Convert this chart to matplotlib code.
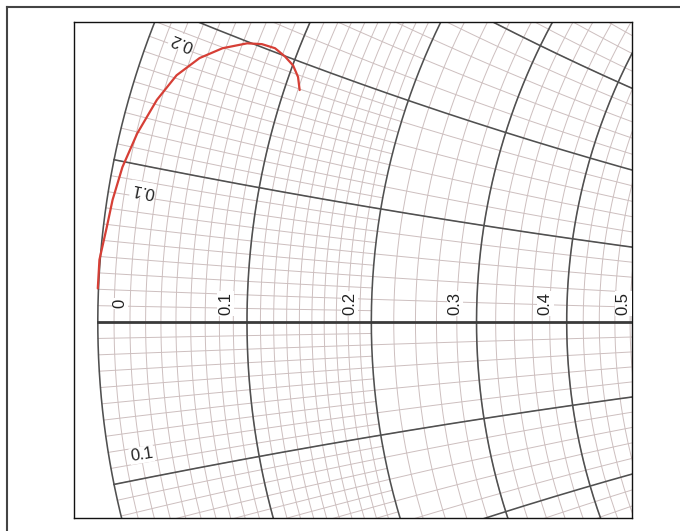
import matplotlib
matplotlib.use('Agg')
import matplotlib.pyplot as plt
import numpy as np
from matplotlib.lines import Line2D

# trace, as reflection coefficient (re, im)
trace_re = [-1.000, -0.998, -0.989, -0.982, -0.970, -0.952, -0.928, -0.904,
            -0.876, -0.848, -0.818, -0.800, -0.784, -0.772, -0.762, -0.756, -0.754]
trace_im = [0.041, 0.076, 0.116, 0.149, 0.189, 0.230, 0.271, 0.301,
            0.322, 0.334, 0.340, 0.339, 0.334, 0.324, 0.313, 0.299, 0.283]

# grid values (normalised resistance / reactance)
r_major = [0.0, 0.1, 0.2, 0.3, 0.4, 0.5]
x_major = [0.1, 0.2, 0.3, 0.4, 0.5]
r_minor_fine = [round(0.01 * i, 2) for i in range(1, 20)]
r_minor_coarse = [round(0.2 + 0.02 * i, 2) for i in range(1, 15)]
x_minor_fine = [round(0.01 * i, 2) for i in range(1, 20)]
x_minor_coarse = [round(0.2 + 0.02 * i, 2) for i in range(1, 15)]
axis_labels = ['0', '0.1', '0.2', '0.3', '0.4', '0.5']


def gamma(z):
    return (z - 1) / (z + 1)


def r_circle(ax, r, **kw):
    xs = np.linspace(-3, 3, 1500)
    g = gamma(r + 1j * xs)
    ax.plot(g.real, g.imag, **kw)


def x_arc(ax, x, rmax, **kw):
    rs = np.linspace(0, rmax, 600)
    for s in (1, -1):
        g = gamma(rs + 1j * s * x)
        ax.plot(g.real, g.imag, **kw)


fig = plt.figure(figsize=(6.8, 5.31), dpi=100)
ax = fig.add_axes([74 / 680, 13 / 531, 558 / 680, 496 / 531])
ax.set_xlim(-1.029, -0.349)
ax.set_ylim(-0.239, 0.366)
ax.set_xticks([])
ax.set_yticks([])
for sp in ax.spines.values():
    sp.set_color('#111111')
    sp.set_linewidth(1.0)

minor = dict(color='#cdbfbf', lw=0.7, zorder=1)
major = dict(color='#505050', lw=1.15, zorder=2)

# fine grid
for r in r_minor_fine + r_minor_coarse:
    r_circle(ax, r, **minor)
for x in x_minor_fine:
    rmax = 0.2 if round(x * 100) % 2 else 3.0
    x_arc(ax, x, rmax, **minor)
for x in x_minor_coarse:
    x_arc(ax, x, 3.0, **minor)

# heavy lines
for r in r_major:
    r_circle(ax, r, **major)
for x in x_major:
    x_arc(ax, x, 3.0, **major)
ax.plot([-1, 1], [0, 0], color='#3a3a3a', lw=2.0, zorder=3)

# measured trace
ax.plot(trace_re, trace_im, color='#d63f36', lw=1.6, zorder=4,
        solid_capstyle='round')

font = ['Liberation Sans', 'DejaVu Sans']
box = dict(facecolor='white', edgecolor='none', pad=0.6)

for r, lab in zip(r_major, axis_labels):
    g = gamma(r + 0j).real
    dx = 16 if r == 0 else -15.5
    ax.annotate(lab, (g, 0), xytext=(dx, 13.5), textcoords='offset points',
                rotation=90, ha='center', va='center', fontsize=12,
                family=font, color='#222222', bbox=box, zorder=5,
                annotation_clip=False)

ax.text(-0.8976, 0.3415, '0.2', rotation=158, ha='center', va='center',
        fontsize=12, family=font, color='#222222', bbox=box, zorder=5)
ax.text(-0.9451, 0.161, '0.1', rotation=169, ha='center', va='center',
        fontsize=12, family=font, color='#222222', bbox=box, zorder=5)
ax.text(-0.9463, -0.162, '0.1', rotation=9, ha='center', va='center',
        fontsize=12, family=font, color='#222222', bbox=box, zorder=5)

# outer frame (top and left edges only visible)
fig.add_artist(Line2D([6.5 / 680, 1.0], [1 - 7 / 531, 1 - 7 / 531],
                      transform=fig.transFigure, color='#444444', lw=1.5))
fig.add_artist(Line2D([6.5 / 680, 6.5 / 680], [0.0, 1 - 7 / 531],
                      transform=fig.transFigure, color='#444444', lw=1.5))

fig.savefig('out.png', dpi=100)
